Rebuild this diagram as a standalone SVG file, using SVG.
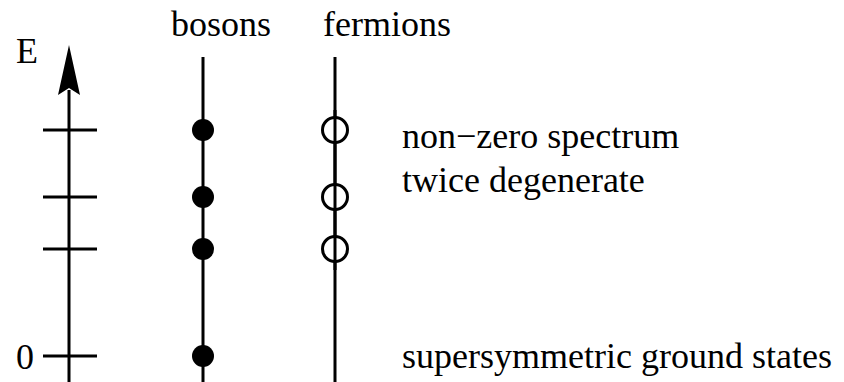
<svg xmlns="http://www.w3.org/2000/svg" width="844" height="382" viewBox="0 0 844 382">
<style>
.t{font-family:'Liberation Serif','DejaVu Serif',serif;font-size:36px;fill:#000}
.ln{stroke:#000;stroke-width:3;fill:none}
.full{fill:#000;stroke:none}
.open{fill:#fff;stroke:#000;stroke-width:3}
</style>
<rect width="844" height="382" fill="#fff"/>
<g id="axis">
<line class="ln" x1="69" y1="90" x2="69" y2="382"/>
<polygon points="69,45 80,95 69,88 58,95" fill="#000"/>
<text class="t" x="16" y="63">E</text>
<line class="ln" x1="43" y1="130" x2="97" y2="130"/>
<line class="ln" x1="43" y1="197" x2="97" y2="197"/>
<line class="ln" x1="43" y1="249" x2="97" y2="249"/>
<line class="ln" x1="43" y1="356" x2="97" y2="356"/>
<text class="t" x="16" y="369">0</text>
</g>
<g id="bosons">
<text class="t" x="221" y="36" text-anchor="middle">bosons</text>
<line class="ln" x1="203" y1="57" x2="203" y2="382"/>
<circle class="full" cx="203" cy="130" r="11"/>
<circle class="full" cx="203" cy="197" r="11"/>
<circle class="full" cx="203" cy="249" r="11"/>
<circle class="full" cx="203" cy="356" r="11"/>
</g>
<g id="fermions">
<text class="t" x="387" y="36" text-anchor="middle">fermions</text>
<line class="ln" x1="335" y1="57" x2="335" y2="382"/>
<circle class="open" cx="335" cy="130" r="12.5"/>
<circle class="open" cx="335" cy="197" r="12.5"/>
<circle class="open" cx="335" cy="249" r="12.5"/>
<line class="ln" x1="335" y1="110" x2="335" y2="270"/>
</g>
<g id="labels">
<text class="t" x="402" y="148">non−zero spectrum</text>
<text class="t" x="402" y="192">twice degenerate</text>
<text class="t" x="402" y="368">supersymmetric ground states</text>
</g>
</svg>
